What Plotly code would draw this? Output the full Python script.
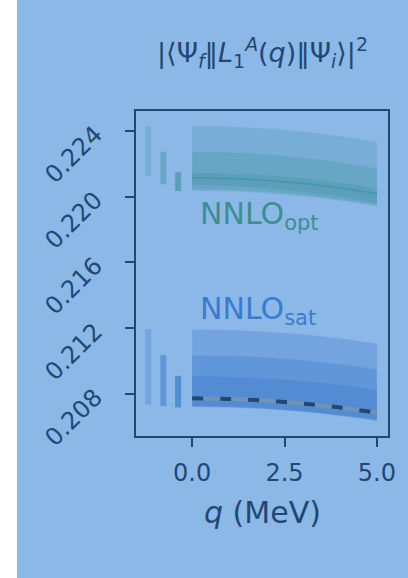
import plotly.graph_objects as go

# ---- data ----
q = [0.0, 1.0, 2.0, 3.0, 4.0, 5.0]

opt_outer_hi = [0.22430, 0.22426, 0.22415, 0.22396, 0.22369, 0.22335]
opt_outer_lo = [0.22037, 0.22033, 0.22022, 0.22003, 0.21977, 0.21943]
opt_mid_hi = [0.22274, 0.22270, 0.22258, 0.22238, 0.22210, 0.22173]
opt_mid_lo = [0.22045, 0.22041, 0.22030, 0.22011, 0.21984, 0.21950]
opt_in_hi = [0.22146, 0.22142, 0.22131, 0.22112, 0.22085, 0.22050]
opt_in_lo = [0.22071, 0.22067, 0.22053, 0.22031, 0.22001, 0.21962]
opt_line = [0.22115, 0.22111, 0.22099, 0.22080, 0.22053, 0.22018]

sat_outer_hi = [0.21192, 0.21189, 0.21178, 0.21161, 0.21138, 0.21107]
sat_outer_lo = [0.20720, 0.20717, 0.20707, 0.20690, 0.20666, 0.20636]
sat_mid_hi = [0.21036, 0.21032, 0.21022, 0.21005, 0.20980, 0.20949]
sat_mid_lo = [0.20723, 0.20720, 0.20710, 0.20693, 0.20669, 0.20640]
sat_in_hi = [0.20908, 0.20905, 0.20894, 0.20877, 0.20854, 0.20823]
sat_in_lo = [0.20726, 0.20723, 0.20713, 0.20696, 0.20672, 0.20644]
sat_line = [0.20773, 0.20769, 0.20759, 0.20741, 0.20717, 0.20685]

bar_q = [-1.19, -0.78, -0.38]
opt_bar_lo = [0.22128, 0.22077, 0.22035]
opt_bar_hi = [0.22430, 0.22274, 0.22149]
sat_bar_lo = [0.20736, 0.20726, 0.20718]
sat_bar_hi = [0.21194, 0.21036, 0.20910]

y_ticks = [0.208, 0.212, 0.216, 0.220, 0.224]
x_ticks = [0.0, 2.5, 5.0]

# ---- styles ----
BG = "#8cb8e8"
NAVY = "#1f4872"
FONT = "DejaVu Sans"
OPT_RGB = (40, 135, 140)
SAT_RGB = (50, 115, 200)
OPT_A = 0.2
SAT_A = 0.28


def rgba(rgb, a):
    return "rgba(%d,%d,%d,%.3f)" % (rgb[0], rgb[1], rgb[2], a)


fig = go.Figure()


def band(lo, hi, color):
    fig.add_trace(go.Scatter(x=q, y=lo, mode="lines", line=dict(width=0, shape="spline"),
                             hoverinfo="skip", showlegend=False))
    fig.add_trace(go.Scatter(x=q, y=hi, mode="lines", line=dict(width=0, shape="spline"),
                             fill="tonexty", fillcolor=color, hoverinfo="skip", showlegend=False))


for lo, hi in [(opt_outer_lo, opt_outer_hi), (opt_mid_lo, opt_mid_hi), (opt_in_lo, opt_in_hi)]:
    band(lo, hi, rgba(OPT_RGB, OPT_A))
for lo, hi in [(sat_outer_lo, sat_outer_hi), (sat_mid_lo, sat_mid_hi), (sat_in_lo, sat_in_hi)]:
    band(lo, hi, rgba(SAT_RGB, SAT_A))

fig.add_trace(go.Scatter(x=q, y=opt_line, mode="lines",
                         line=dict(width=1.5, color=rgba(OPT_RGB, 0.4), shape="spline"),
                         showlegend=False))

# vertical bars
for i in range(3):
    a_opt = 1 - (1 - OPT_A) ** (i + 1)
    a_sat = 1 - (1 - SAT_A) ** (i + 1)
    fig.add_trace(go.Scatter(x=[bar_q[i], bar_q[i]], y=[opt_bar_lo[i], opt_bar_hi[i]], mode="lines",
                             line=dict(width=6, color=rgba(OPT_RGB, a_opt)), showlegend=False))
    fig.add_trace(go.Scatter(x=[bar_q[i], bar_q[i]], y=[sat_bar_lo[i], sat_bar_hi[i]], mode="lines",
                             line=dict(width=6, color=rgba(SAT_RGB, a_sat)), showlegend=False))

# dashed line with light underlay
fig.add_trace(go.Scatter(x=q, y=sat_line, mode="lines",
                         line=dict(width=4, color="#7592b2", shape="spline"), showlegend=False))
fig.add_trace(go.Scatter(x=q, y=sat_line, mode="lines",
                         line=dict(width=4, color=NAVY, dash="11px,17px", shape="spline"),
                         showlegend=False))

fig.add_annotation(x=0.15, y=0.21756, xref="x", yref="y", xanchor="left", yanchor="bottom",
                   text="NNLO<sub>opt</sub>", showarrow=False,
                   font=dict(family=FONT, size=30, color="#3d8f8f"))
fig.add_annotation(x=0.15, y=0.21178, xref="x", yref="y", xanchor="left", yanchor="bottom",
                   text="NNLO<sub>sat</sub>", showarrow=False,
                   font=dict(family=FONT, size=30, color="#3a7bd0"))

fig.add_annotation(x=0.5, y=-0.234, xref="paper", yref="paper", xanchor="center", yanchor="middle",
                   text="<i>q</i> (MeV)", showarrow=False,
                   font=dict(family=FONT, size=30, color=NAVY))

fig.add_annotation(x=0.5, y=1.18, xref="paper", yref="paper", xanchor="center", yanchor="middle",
                   text="|⟨Ψ<sub><i>f</i></sub>‖<i>L</i><sub>1</sub><sup><i>A</i></sup>(<i>q</i>)‖Ψ<sub><i>i</i></sub>⟩|<sup>2</sup>",
                   showarrow=False, font=dict(family=FONT, size=27, color=NAVY))

# white strip on the left
fig.add_shape(type="rect", xref="paper", yref="paper", x0=-136 / 252, x1=(17 - 136) / 252,
              y0=-142 / 325, y1=1 + 111 / 325, fillcolor="white", line=dict(width=0), layer="below")

axis_common = dict(showgrid=False, zeroline=False, showline=True, linecolor=NAVY, linewidth=2,
                   mirror=True, ticks="outside", ticklen=9, tickwidth=2, tickcolor=NAVY,
                   tickfont=dict(family=FONT, size=24, color=NAVY))

fig.update_layout(
    width=408, height=578, autosize=False,
    margin=dict(l=136, r=20, t=111, b=142),
    paper_bgcolor=BG, plot_bgcolor=BG,
    xaxis=dict(range=[-1.52, 5.3], tickvals=x_ticks, ticktext=["%.1f" % v for v in x_ticks],
               ticklabelstandoff=5, **axis_common),
    yaxis=dict(range=[0.20544, 0.22522], tickvals=y_ticks, ticktext=["%.3f" % v for v in y_ticks],
               tickangle=-45, ticklabelstandoff=25, **axis_common),
)

fig.write_html("out.html")
